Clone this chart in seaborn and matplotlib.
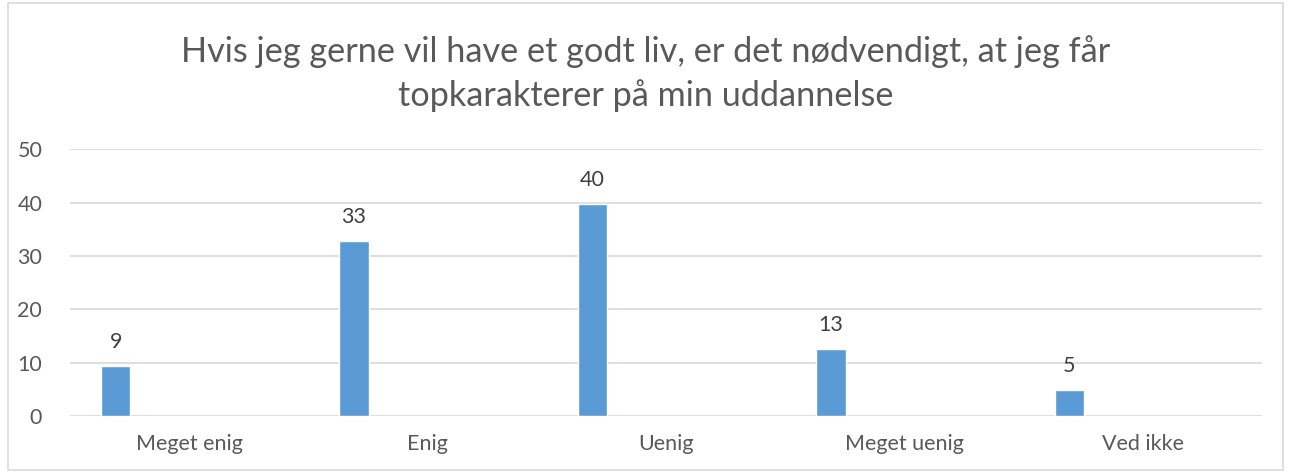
import pandas as pd
import matplotlib.pyplot as plt
import matplotlib.patches as mpatches
import seaborn as sns

# data (labels shown rounded)
kategorier = ['Meget enig', 'Enig', 'Uenig', 'Meget uenig', 'Ved ikke']
andel = [9.3, 32.8, 39.8, 12.6, 4.9]
titel = 'Hvis jeg gerne vil have et godt liv, er det nødvendigt, at jeg får\ntopkarakterer på min uddannelse'
y_ticks = [0, 10, 20, 30, 40, 50]

BLUE = '#5B9BD5'
GREY_TXT = '#595959'
GRID = '#D9D9D9'

sns.set_theme(style='white')
plt.rcParams['font.family'] = ['Lato', 'DejaVu Sans']

df = pd.DataFrame({'kategori': kategorier, 'andel': andel, 'serie': 'Andel'})
# Excel-style cluster with empty slots: bar sits at the left of each category
hue_levels = ['Andel', 's2', 's3', 's4', 's5', 's6']

fig = plt.figure(figsize=(12.91, 4.74), dpi=100)
ax = fig.add_axes([0.0542, 0.1224, 0.9233, 0.5626])

sns.barplot(data=df, x='kategori', y='andel', hue='serie', hue_order=hue_levels,
            palette=[BLUE] * len(hue_levels), width=0.74, dodge=True,
            legend=False, ax=ax, saturation=1, errorbar=None)

for cont in ax.containers:
    ax.bar_label(cont, labels=[f'{v:.0f}' for v in cont.datavalues],
                 padding=10, fontsize=15.5, color='#404040')

ax.set_ylim(0, 50)
ax.set_xlim(-0.5, len(kategorier) - 0.5)
ax.set_yticks(y_ticks)
ax.yaxis.grid(True, color=GRID, linewidth=1.2)
ax.set_axisbelow(True)
for s in ax.spines.values():
    s.set_visible(False)
ax.set_xlabel('')
ax.set_ylabel('')
ax.tick_params(axis='both', length=0, labelsize=15.5, labelcolor=GREY_TXT)
ax.tick_params(axis='y', pad=20)
ax.tick_params(axis='x', pad=13)

fig.text(0.5, 0.845, titel, ha='center', va='center', fontsize=24.7,
         color=GREY_TXT, linespacing=1.42, fontweight='normal')

fig.patches.append(mpatches.Rectangle((0.006, 0.008), 0.988, 0.985, transform=fig.transFigure,
                                      fill=False, edgecolor='#D9D9D9', linewidth=1.2))

fig.savefig('out.png', dpi=100)
